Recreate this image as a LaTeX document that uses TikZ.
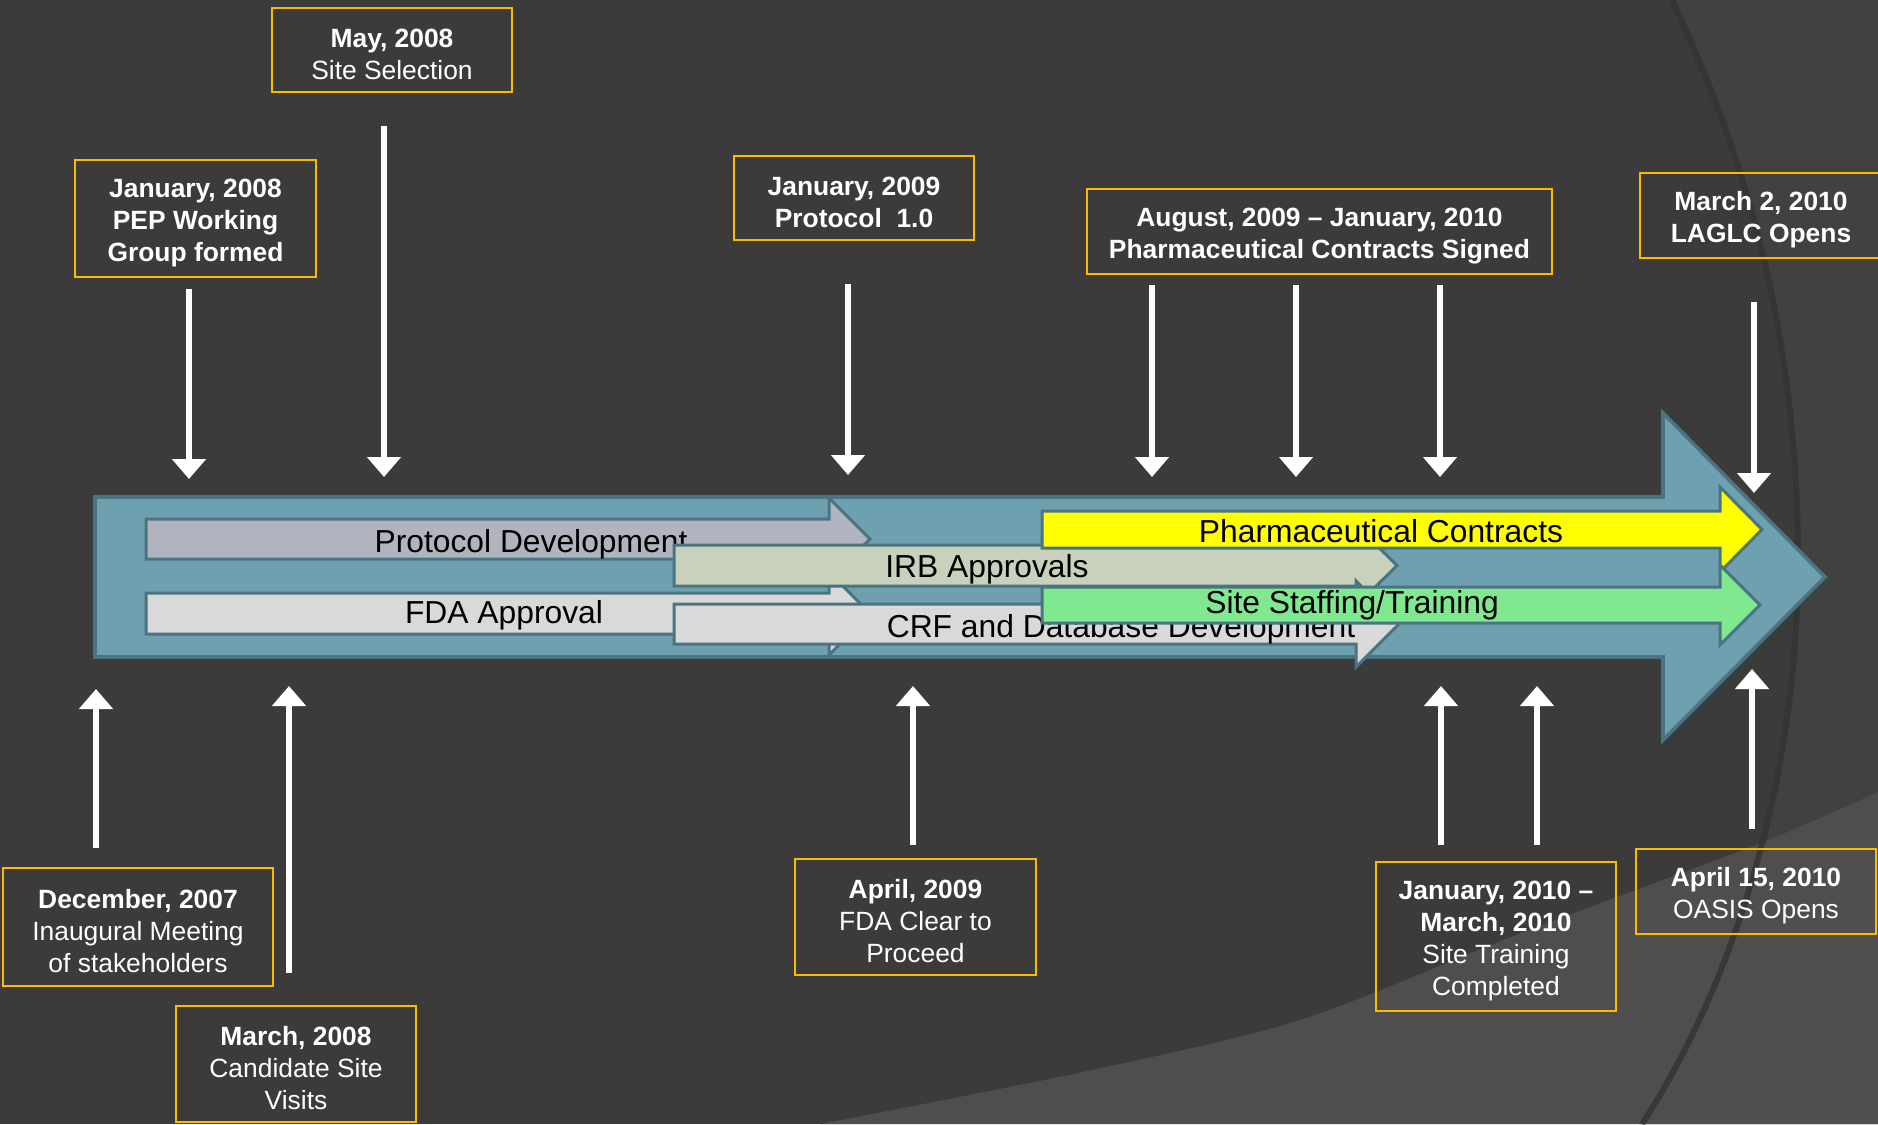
\documentclass[tikz,border=0pt]{standalone}
\usepackage{fontspec}
\setmainfont{Liberation Sans}
\usetikzlibrary{arrows.meta}
\definecolor{bg}{HTML}{3B3B3B}
\definecolor{arcbg}{HTML}{414141}
\definecolor{lowbg}{HTML}{4E4E4E}
\definecolor{arcshade}{HTML}{303030}
\definecolor{teal}{HTML}{6EA0AF}
\definecolor{tealdark}{HTML}{4B7483}
\definecolor{protgray}{HTML}{B1B4BE}
\definecolor{lightgray}{HTML}{D9D9D9}
\definecolor{sage}{HTML}{C8D1BC}
\definecolor{yel}{HTML}{FFFF00}
\definecolor{grn}{HTML}{80E88F}
\definecolor{gold}{HTML}{FDBB00}
\newcommand\boxfont{\fontsize{13.2pt}{16pt}\selectfont}
\newcommand\bandfont{\fontsize{15.9pt}{19pt}\selectfont}
\newcommand\tp{\rule{0pt}{13.6pt}}
\begin{document}
\begin{tikzpicture}[x=0.5pt,y=-0.5pt,
  bx/.style={draw=gold, line width=1.2pt, text=white, align=center, inner sep=0pt, font=\boxfont},
  warr/.style={draw=white, line width=3pt, -{Triangle[width=16.5pt,length=10pt]}},
  band/.style={draw=tealdark, line width=1.5pt, line join=miter},
  lbl/.style={text=black, font=\bandfont, inner sep=0pt, anchor=base}]
\useasboundingbox (0,0) rectangle (1878,1124);
\clip (0,0) rectangle (1878,1124);
% background
\fill[bg] (0,0) rectangle (1878,1124);
\fill[arcbg] (1669,0) .. controls (1740,150) and (1795,330) .. (1795,560) .. controls (1795,800) and (1720,1000) .. (1639,1124) -- (1878,1124) -- (1878,0) -- cycle;
\fill[lowbg] plot[smooth] coordinates {(820,1124) (1078,1073) (1300,1020) (1521,933) (1761,843) (1878,792)} -- (1878,1124) -- cycle;
\draw[arcshade, line width=3pt, opacity=0.7] (1672,0) .. controls (1743,150) and (1798,330) .. (1798,560) .. controls (1798,800) and (1723,1000) .. (1642,1124);
% main timeline arrow
\filldraw[fill=teal, draw=tealdark, line width=1.8pt, line join=miter]
  (95,497) -- (1663,497) -- (1663,413) -- (1825,577) -- (1663,740) -- (1663,657) -- (95,657) -- cycle;
% inner bands
\filldraw[band, fill=protgray] (146,519) -- (829,519) -- (829,498) -- (870,539) -- (829,580) -- (829,559) -- (146,559) -- cycle;
\node[lbl] (protl) at (531,552) {Protocol Development};
\filldraw[band, fill=lightgray] (146,593) -- (829,593) -- (829,572) -- (870,613.5) -- (829,655) -- (829,634) -- (146,634) -- cycle;
\node[lbl] (fdal) at (504,623) {FDA Approval};
\filldraw[band, fill=sage] (674,545) -- (1355,545) -- (1355,524) -- (1397,565.5) -- (1355,607) -- (1355,586) -- (674,586) -- cycle;
\node[lbl] (irbl) at (987,577) {IRB Approvals};
\filldraw[band, fill=lightgray] (674,604) -- (1356,604) -- (1356,581) -- (1399,624) -- (1356,667) -- (1356,644) -- (674,644) -- cycle;
\node[lbl] (crfl) at (1121,637) {CRF and Database Development};
\filldraw[band, fill=yel] (1042,511) -- (1720,511) -- (1720,487) -- (1762,529.5) -- (1720,572) -- (1720,548) -- (1042,548) -- cycle;
\node[lbl] (pharml) at (1381,542) {Pharmaceutical Contracts};
\filldraw[band, fill=grn] (1042,587) -- (1720,587) -- (1720,565) -- (1760,605) -- (1720,645) -- (1720,623) -- (1042,623) -- cycle;
\node[lbl] (staffl) at (1352,613) {Site Staffing/Training};
% milestone boxes
\node[bx, minimum width=120pt, minimum height=42pt] (may08) at (392,50) {\tp\textbf{May, 2008}\\Site Selection};
\node[bx, minimum width=120.5pt, minimum height=58.5pt] (jan08) at (195.5,218.5) {\tp\textbf{January, 2008}\\\textbf{PEP Working}\\\textbf{Group formed}};
\node[bx, minimum width=120pt, minimum height=42pt] (jan09) at (854,198) {\tp\textbf{January, 2009}\\\textbf{Protocol\ \ 1.0}};
\node[bx, minimum width=232.5pt, minimum height=42.5pt] (aug09) at (1319.5,231.5) {\tp\textbf{August, 2009 – January, 2010}\\\textbf{Pharmaceutical Contracts Signed}};
\node[bx, minimum width=121pt, minimum height=42.5pt] (mar10) at (1761,215.5) {\tp\textbf{March 2, 2010}\\\textbf{LAGLC Opens}};
\node[bx, minimum width=135pt, minimum height=59pt] (dec07) at (138,927) {\tp\textbf{December, 2007}\\Inaugural Meeting\\of stakeholders};
\node[bx, minimum width=120pt, minimum height=58pt] (mar08) at (296,1064) {\tp\textbf{March, 2008}\\Candidate Site\\Visits};
\node[bx, minimum width=120.5pt, minimum height=58pt] (apr09) at (915.5,917) {\tp\textbf{April, 2009}\\FDA Clear to\\Proceed};
\node[bx, minimum width=120pt, minimum height=74.5pt] (jan10) at (1496,936.5) {\tp\textbf{January, 2010 –}\\\textbf{March, 2010}\\Site Training\\Completed};
\node[bx, minimum width=120pt, minimum height=42.5pt] (apr10) at (1756,891.5) {\tp\textbf{April 15, 2010}\\OASIS Opens};
% connector end points
\coordinate (jan08s) at (189,289);  \coordinate (jan08e) at (189,479);
\coordinate (may08s) at (384,126);  \coordinate (may08e) at (384,477);
\coordinate (jan09s) at (848,284);  \coordinate (jan09e) at (848,475);
\coordinate (aug09sa) at (1152,285); \coordinate (aug09ea) at (1152,477);
\coordinate (aug09sb) at (1296,285); \coordinate (aug09eb) at (1296,477);
\coordinate (aug09sc) at (1440,285); \coordinate (aug09ec) at (1440,477);
\coordinate (mar10s) at (1754,302); \coordinate (mar10e) at (1754,493);
\coordinate (dec07s) at (96,848);   \coordinate (dec07e) at (96,689);
\coordinate (mar08s) at (289,973);  \coordinate (mar08e) at (289,686);
\coordinate (apr09s) at (913,845);  \coordinate (apr09e) at (913,686);
\coordinate (jan10sa) at (1441,845); \coordinate (jan10ea) at (1441,686);
\coordinate (jan10sb) at (1537,845); \coordinate (jan10eb) at (1537,686);
\coordinate (apr10s) at (1752,829); \coordinate (apr10e) at (1752,669);
% connectors
\draw[warr] (jan08s) -- (jan08e);
\draw[warr] (may08s) -- (may08e);
\draw[warr] (jan09s) -- (jan09e);
\draw[warr] (aug09sa) -- (aug09ea);
\draw[warr] (aug09sb) -- (aug09eb);
\draw[warr] (aug09sc) -- (aug09ec);
\draw[warr] (mar10s) -- (mar10e);
\draw[warr] (dec07s) -- (dec07e);
\draw[warr] (mar08s) -- (mar08e);
\draw[warr] (apr09s) -- (apr09e);
\draw[warr] (jan10sa) -- (jan10ea);
\draw[warr] (jan10sb) -- (jan10eb);
\draw[warr] (apr10s) -- (apr10e);
\end{tikzpicture}
\end{document}
